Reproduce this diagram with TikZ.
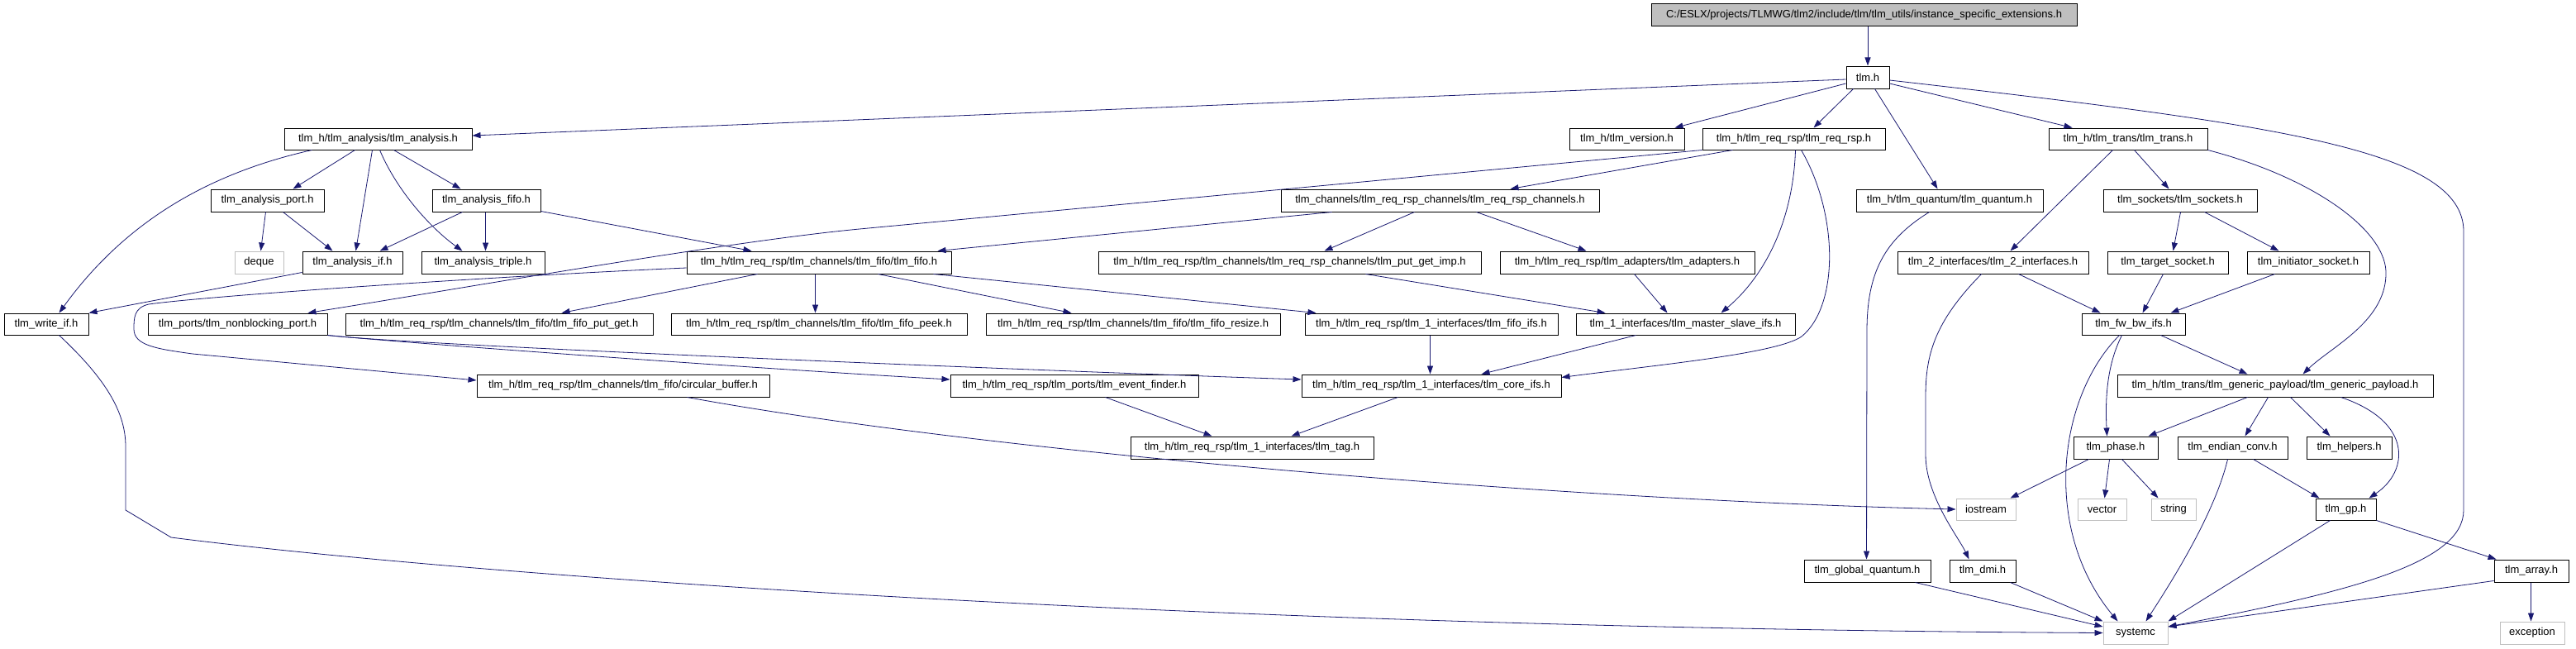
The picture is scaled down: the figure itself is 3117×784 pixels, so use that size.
\documentclass[tikz,border=0pt]{standalone}
\usepackage{fontspec}
\setmainfont{Liberation Sans}
\usetikzlibrary{arrows.meta}
\definecolor{navy}{HTML}{191970}
\definecolor{gline}{HTML}{BFBFBF}
\tikzset{
  hbox/.style={draw=black,line width=1pt,fill=white,inner sep=0pt,font=\fontsize{13}{15}\selectfont,text=black},
  gbox/.style={hbox,draw=gline},
  rbox/.style={hbox,fill=gline},
  edge/.style={draw=navy,line width=0.8pt,-{Triangle[length=10pt,width=7pt]},fill=none}
}
\newcommand\bx[7]{\node[#1,minimum width={#5-#3},minimum height={#6-#4}] (#2) at ({(#3+#5)/2},{(#4+#6)/2}) {#7};}
\begin{document}
\begin{tikzpicture}[x=1pt,y=-1pt]
\fill[white] (0,0) rectangle (3117,784);
\useasboundingbox (0,0) rectangle (3117,784);
% nodes
\bx{rbox}{root}{1998}{5}{2513}{32}{C:/ESLX/projects/TLMWG/tlm2/include/tlm/tlm\_utils/instance\_specific\_extensions.h}
\bx{hbox}{tlmh}{2234}{80}{2286}{107}{tlm.h}
\bx{hbox}{ana}{344}{155}{571}{181}{tlm\_h/tlm\_analysis/tlm\_analysis.h}
\bx{hbox}{ver}{1899}{155}{2038}{181}{tlm\_h/tlm\_version.h}
\bx{hbox}{rr}{2060}{155}{2281}{181}{tlm\_h/tlm\_req\_rsp/tlm\_req\_rsp.h}
\bx{hbox}{trans}{2479}{155}{2671}{181}{tlm\_h/tlm\_trans/tlm\_trans.h}
\bx{hbox}{port}{255}{229}{392}{256}{tlm\_analysis\_port.h}
\bx{hbox}{afifo}{523}{229}{654}{256}{tlm\_analysis\_fifo.h}
\bx{hbox}{rrch}{1550}{229}{1935}{256}{tlm\_channels/tlm\_req\_rsp\_channels/tlm\_req\_rsp\_channels.h}
\bx{hbox}{quant}{2246}{229}{2472}{256}{tlm\_h/tlm\_quantum/tlm\_quantum.h}
\bx{hbox}{sock}{2545}{229}{2731}{256}{tlm\_sockets/tlm\_sockets.h}
\bx{gbox}{deque}{284}{304}{343}{331}{deque}
\bx{hbox}{aif}{366}{304}{487}{331}{tlm\_analysis\_if.h}
\bx{hbox}{triple}{510}{304}{659}{331}{tlm\_analysis\_triple.h}
\bx{hbox}{fifo}{831}{304}{1151}{331}{tlm\_h/tlm\_req\_rsp/tlm\_channels/tlm\_fifo/tlm\_fifo.h}
\bx{hbox}{pgi}{1329}{304}{1792}{331}{tlm\_h/tlm\_req\_rsp/tlm\_channels/tlm\_req\_rsp\_channels/tlm\_put\_get\_imp.h}
\bx{hbox}{adap}{1815}{304}{2123}{331}{tlm\_h/tlm\_req\_rsp/tlm\_adapters/tlm\_adapters.h}
\bx{hbox}{two}{2296}{304}{2527}{331}{tlm\_2\_interfaces/tlm\_2\_interfaces.h}
\bx{hbox}{tsock}{2550}{304}{2696}{331}{tlm\_target\_socket.h}
\bx{hbox}{isock}{2719}{304}{2867}{331}{tlm\_initiator\_socket.h}
\bx{hbox}{wif}{5}{379}{107}{405}{tlm\_write\_if.h}
\bx{hbox}{nbp}{179}{379}{396}{405}{tlm\_ports/tlm\_nonblocking\_port.h}
\bx{hbox}{fpg}{418}{379}{790}{405}{tlm\_h/tlm\_req\_rsp/tlm\_channels/tlm\_fifo/tlm\_fifo\_put\_get.h}
\bx{hbox}{fpeek}{812}{379}{1170}{405}{tlm\_h/tlm\_req\_rsp/tlm\_channels/tlm\_fifo/tlm\_fifo\_peek.h}
\bx{hbox}{fres}{1193}{379}{1549}{405}{tlm\_h/tlm\_req\_rsp/tlm\_channels/tlm\_fifo/tlm\_fifo\_resize.h}
\bx{hbox}{fifs}{1579}{379}{1885}{405}{tlm\_h/tlm\_req\_rsp/tlm\_1\_interfaces/tlm\_fifo\_ifs.h}
\bx{hbox}{msi}{1907}{379}{2172}{405}{tlm\_1\_interfaces/tlm\_master\_slave\_ifs.h}
\bx{hbox}{fwbw}{2519}{379}{2644}{405}{tlm\_fw\_bw\_ifs.h}
\bx{hbox}{cbuf}{577}{453}{931}{480}{tlm\_h/tlm\_req\_rsp/tlm\_channels/tlm\_fifo/circular\_buffer.h}
\bx{hbox}{evf}{1150}{453}{1450}{480}{tlm\_h/tlm\_req\_rsp/tlm\_ports/tlm\_event\_finder.h}
\bx{hbox}{core}{1575}{453}{1889}{480}{tlm\_h/tlm\_req\_rsp/tlm\_1\_interfaces/tlm\_core\_ifs.h}
\bx{hbox}{gp}{2562}{453}{2944}{480}{tlm\_h/tlm\_trans/tlm\_generic\_payload/tlm\_generic\_payload.h}
\bx{hbox}{tag}{1368}{528}{1662}{555}{tlm\_h/tlm\_req\_rsp/tlm\_1\_interfaces/tlm\_tag.h}
\bx{hbox}{phase}{2509}{528}{2611}{555}{tlm\_phase.h}
\bx{hbox}{endian}{2635}{528}{2768}{555}{tlm\_endian\_conv.h}
\bx{hbox}{helpers}{2791}{528}{2894}{555}{tlm\_helpers.h}
\bx{gbox}{iostream}{2367}{603}{2439}{629}{iostream}
\bx{gbox}{vector}{2514}{603}{2573}{629}{vector}
\bx{gbox}{string}{2603}{603}{2657}{629}{string}
\bx{hbox}{gph}{2802}{603}{2875}{629}{tlm\_gp.h}
\bx{hbox}{gq}{2183}{677}{2336}{704}{tlm\_global\_quantum.h}
\bx{hbox}{dmi}{2359}{677}{2439}{704}{tlm\_dmi.h}
\bx{hbox}{array}{3018}{677}{3108}{704}{tlm\_array.h}
\bx{gbox}{systemc}{2545}{752}{2623}{779}{systemc}
\bx{gbox}{exc}{3025}{752}{3103}{779}{exception}
% edges
\draw[edge] (root.south -| tlmh.north) -- (tlmh.north);
\draw[edge] ([yshift=-2.5pt]tlmh.west) -- ([yshift=4pt]ana.east);
\draw[edge] ([yshift=-7.5pt]tlmh.west) -- ([xshift=128pt]ver.north west);
\draw[edge] ([xshift=9pt]tlmh.south west) -- ([xshift=135pt]rr.north west);
\draw[edge] ([xshift=35pt]tlmh.south west) -- ([xshift=99pt]quant.north west);
\draw[edge] ([yshift=-7.5pt]tlmh.east) -- ([xshift=29pt]trans.north west);
\draw[edge] ([yshift=-3.5pt]tlmh.east) .. controls (2750,150) and (2981,180) .. (2981,280) -- (2981,617) .. controls (2981,680) and (2850,715) .. ([yshift=7.5pt]systemc.east);
\draw[edge] ([xshift=34pt]ana.south west) .. controls (250,210) and (150,270) .. ([xshift=67pt]wif.north west);
\draw[edge] ([xshift=86pt]ana.south west) -- ([xshift=100pt]port.north west);
\draw[edge] ([xshift=107pt]ana.south west) -- ([xshift=65pt]aif.north west);
\draw[edge] ([xshift=116pt]ana.south west) .. controls (480,230) and (520,275) .. ([xshift=50pt]triple.north west);
\draw[edge] ([xshift=133pt]ana.south west) -- ([xshift=35pt]afifo.north west);
\draw[edge] ([xshift=67pt]port.south west) -- ([xshift=32pt]deque.north west);
\draw[edge] ([xshift=88pt]port.south west) -- ([xshift=37pt]aif.north west);
\draw[edge] ([xshift=37pt]afifo.south west) -- ([xshift=94pt]aif.north west);
\draw[edge] ([xshift=65pt]afifo.south west) -- ([xshift=78pt]triple.north west);
\draw[edge] ([yshift=1pt]afifo.south east) -- ([xshift=79pt]fifo.north west);
\draw[edge] ([yshift=2pt]aif.south west) -- (wif.north east);
\draw[edge] ([xshift=37pt]rr.south west) -- ([xshift=278pt]rrch.north west);
\draw[edge] (rr.south west) -- (1040,277) .. controls (880,292) and (540,352) .. ([xshift=194pt]nbp.north west);
\draw[edge] ([xshift=113pt]rr.south west) .. controls (2170,260) and (2140,330) .. ([xshift=176pt]msi.north west);
\draw[edge] ([xshift=120pt]rr.south west) .. controls (2225,260) and (2225,370) .. (2180,407) .. controls (2150,428) and (2000,442) .. ([yshift=10pt]core.east);
\draw[edge] ([xshift=162pt]rrch.south west) -- ([xshift=274pt]pgi.north west);
\draw[edge] ([xshift=237pt]rrch.south west) -- ([xshift=105pt]adap.north west);
\draw[edge] ([xshift=62pt]rrch.south west) -- ([xshift=304pt]fifo.north west);
\draw[edge] ([xshift=324pt]pgi.south west) -- ([xshift=36pt]msi.north west);
\draw[edge] ([xshift=163pt]adap.south west) -- ([xshift=111pt]msi.north west);
\draw[edge] ([xshift=73pt]msi.south west) -- ([xshift=218pt]core.north west);
\draw[edge] ([xshift=152pt]fifs.south west) -- ([xshift=156pt]core.north west);
\draw[edge] ([xshift=86pt]fifo.south west) -- ([xshift=262pt]fpg.north west);
\draw[edge] ([xshift=156pt]fifo.south west) -- ([xshift=175pt]fpeek.north west);
\draw[edge] ([xshift=232pt]fifo.south west) -- ([xshift=104pt]fres.north west);
\draw[edge] ([xshift=299pt]fifo.south west) -- ([xshift=14pt]fifs.north west);
\draw[edge] ([yshift=-6.5pt]fifo.west) .. controls (600,334) and (250,358) .. (180,368) .. controls (162,372) and (162,385) .. (162,398) .. controls (162,418) and (190,422) .. (233,428) -- ([yshift=6.5pt]cbuf.west);
\draw[edge] (nbp.south east) .. controls (500,418) and (1300,450) .. ([yshift=7.5pt]core.west);
\draw[edge] (nbp.south east) .. controls (480,414) and (900,445) .. ([yshift=7.5pt]evf.west);
\draw[edge] ([xshift=188pt]evf.south west) -- ([xshift=99pt]tag.north west);
\draw[edge] ([xshift=117pt]core.south west) -- ([xshift=195pt]tag.north west);
\draw[edge] ([xshift=255pt]cbuf.south west) .. controls (1200,548) and (1900,605) .. (iostream.west);
\draw[edge] ([xshift=67pt]wif.south west) .. controls (130,460) and (152,500) .. (152,540) -- (152,617) -- (207,650) .. controls (600,700) and (1500,760) .. (systemc.west);
\draw[edge] ([xshift=89pt]quant.south west) .. controls (2280,290) and (2259,330) .. (2259,400) -- ([xshift=76pt]gq.north west);
\draw[edge] ([xshift=78pt]trans.south west) -- ([xshift=137pt]two.north west);
\draw[edge] ([xshift=104pt]trans.south west) -- ([xshift=80pt]sock.north west);
\draw[edge] (trans.south east) .. controls (2800,215) and (2890,280) .. (2887,333) .. controls (2885,390) and (2820,420) .. ([xshift=225pt]gp.north west);
\draw[edge] ([xshift=94pt]sock.south west) -- ([xshift=80pt]tsock.north west);
\draw[edge] ([xshift=123pt]sock.south west) -- ([xshift=39pt]isock.north west);
\draw[edge] ([xshift=68pt]tsock.south west) -- ([xshift=74pt]fwbw.north west);
\draw[edge] ([xshift=34pt]isock.south west) -- ([xshift=108pt]fwbw.north west);
\draw[edge] ([xshift=147pt]two.south west) -- ([xshift=23pt]fwbw.north west);
\draw[edge] ([xshift=102pt]two.south west) .. controls (2340,390) and (2330,430) .. (2330,480) -- (2330,550) .. controls (2330,600) and (2370,650) .. ([xshift=24pt]dmi.north west);
\draw[edge] ([xshift=96pt]fwbw.south west) -- ([xshift=158pt]gp.north west);
\draw[edge] ([xshift=49pt]fwbw.south west) .. controls (2550,440) and (2547,480) .. ([xshift=41pt]phase.north west);
\draw[edge] ([xshift=46pt]fwbw.south west) .. controls (2490,480) and (2470,640) .. ([xshift=18pt]systemc.north west);
\draw[edge] ([xshift=158pt]gp.south west) -- ([xshift=91pt]phase.north west);
\draw[edge] ([xshift=183pt]gp.south west) -- ([xshift=82pt]endian.north west);
\draw[edge] ([xshift=210pt]gp.south west) -- ([xshift=29pt]helpers.north west);
\draw[edge] ([xshift=271pt]gp.south west) .. controls (2920,510) and (2915,570) .. ([xshift=65pt]gph.north west);
\draw[edge] ([xshift=19pt]phase.south west) -- ([xshift=66pt]iostream.north west);
\draw[edge] ([xshift=44pt]phase.south west) -- ([xshift=33pt]vector.north west);
\draw[edge] ([xshift=59pt]phase.south west) -- ([xshift=9pt]string.north west);
\draw[edge] ([xshift=92pt]endian.south west) -- ([xshift=5pt]gph.north west);
\draw[edge] ([xshift=61pt]endian.south west) .. controls (2680,620) and (2630,700) .. ([xshift=52pt]systemc.north west);
\draw[edge] ([xshift=18pt]gph.south west) -- (systemc.north east);
\draw[edge] (gph.south east) -- ([xshift=3pt]array.north west);
\draw[edge] ([yshift=2pt]array.south west) -- ([yshift=7.5pt]systemc.east);
\draw[edge] ([xshift=45pt]array.south west) -- ([xshift=38pt]exc.north west);
\draw[edge] ([xshift=135pt]gq.south west) -- ([yshift=7.5pt]systemc.west);
\draw[edge] ([xshift=74pt]dmi.south west) -- (systemc.north west);
\end{tikzpicture}
\end{document}
